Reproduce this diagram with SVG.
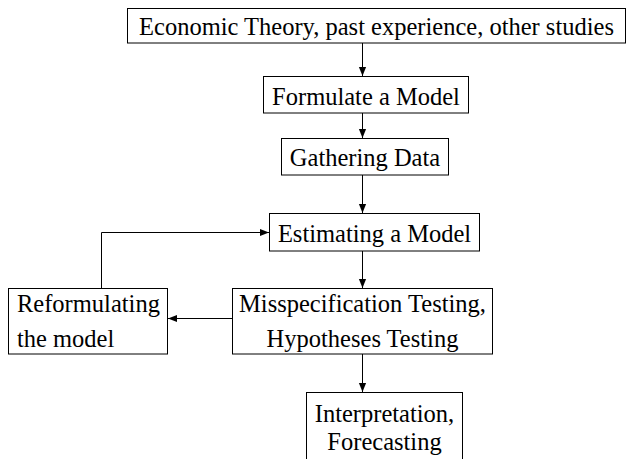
<svg xmlns="http://www.w3.org/2000/svg" width="630" height="459" viewBox="0 0 630 459">
  <style>
    .box { fill: #fff; stroke: #000; stroke-width: 1; }
    .lbl { font-family: "Liberation Serif", "Times New Roman", serif; font-size: 24.5px; fill: #000; }
    .mid { text-anchor: middle; }
    .wire { fill: none; stroke: #000; stroke-width: 1; }
  </style>
  <defs>
    <marker id="arrow" viewBox="0 0 10 10" refX="10" refY="5" markerWidth="9" markerHeight="9" markerUnits="userSpaceOnUse" orient="auto">
      <path d="M0,1 L10,5 L0,9 Z" fill="#000"/>
    </marker>
  </defs>
  <rect width="630" height="459" fill="#fff"/>

  <g id="connectors">
    <path class="wire" d="M362.5,43 V76" marker-end="url(#arrow)"/>
    <path class="wire" d="M362.5,113 V138" marker-end="url(#arrow)"/>
    <path class="wire" d="M362.5,175 V213" marker-end="url(#arrow)"/>
    <path class="wire" d="M362.5,251 V288" marker-end="url(#arrow)"/>
    <path class="wire" d="M362.5,354 V392" marker-end="url(#arrow)"/>
    <path class="wire" d="M232,318.5 H168" marker-end="url(#arrow)"/>
    <path class="wire" d="M101.5,288 V232.5 H269" marker-end="url(#arrow)"/>
  </g>

  <g id="theory">
    <rect class="box" x="127.5" y="8.5" width="498" height="34.5"/>
    <text class="lbl mid" x="376.5" y="35">Economic Theory, past experience, other studies</text>
  </g>
  <g id="formulate">
    <rect class="box" x="263.5" y="76.5" width="205" height="36.5"/>
    <text class="lbl mid" x="366" y="105">Formulate a Model</text>
  </g>
  <g id="gather">
    <rect class="box" x="281.5" y="138.5" width="167" height="36.5"/>
    <text class="lbl mid" x="365" y="166">Gathering Data</text>
  </g>
  <g id="estimate">
    <rect class="box" x="269.5" y="213.5" width="210" height="37.5"/>
    <text class="lbl mid" x="374.5" y="242">Estimating a Model</text>
  </g>
  <g id="reformulate">
    <rect class="box" x="8.5" y="288.5" width="159" height="65.5"/>
    <text class="lbl" x="17" y="312">Reformulating</text>
    <text class="lbl" x="17" y="347">the model</text>
  </g>
  <g id="testing">
    <rect class="box" x="232.5" y="288.5" width="260" height="65.5"/>
    <text class="lbl mid" x="362.5" y="312">Misspecification Testing,</text>
    <text class="lbl mid" x="362.5" y="347">Hypotheses Testing</text>
  </g>
  <g id="interpret">
    <rect class="box" x="306.5" y="392.5" width="156" height="80"/>
    <text class="lbl mid" x="384.5" y="422">Interpretation,</text>
    <text class="lbl mid" x="384.5" y="450">Forecasting</text>
  </g>
</svg>
